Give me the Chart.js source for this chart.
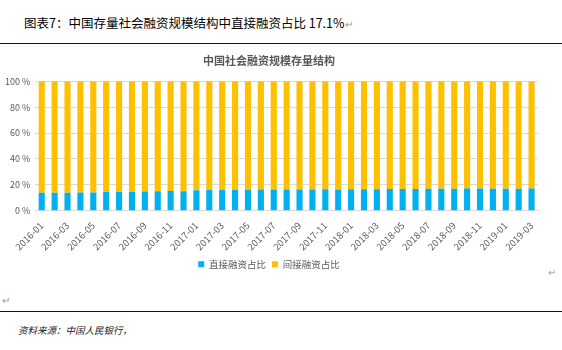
<!DOCTYPE html>
<html>
<head>
<meta charset="utf-8">
<script src="https://cdn.jsdelivr.net/npm/chart.js@4/dist/chart.umd.min.js"></script>
<style>
  html, body { margin: 0; padding: 0; background: #fff; }
  body { width: 562px; height: 350px; position: relative; overflow: hidden;
         font-family: "Noto Sans CJK SC", sans-serif; }
  #head { position: absolute; left: 24px; top: 13px; font-size: 12.5px; color: #000; white-space: nowrap; }
  .ret { color: #9a9a9a; font-size: 10px; }
  .rule { position: absolute; left: 0; width: 562px; height: 1px; background: #111; }
  #box { position: absolute; left: 0; top: 48px; width: 562px; height: 231px; }
  #src { position: absolute; left: 18px; top: 323px; font-size: 9.5px; font-style: italic; color: #222; }
  #r1 { position: absolute; left: 548px; top: 264px; }
  #r2 { position: absolute; left: 2px; top: 292px; }
</style>
</head>
<body>
<div id="head">图表7：中国存量社会融资规模结构中直接融资占比 17.1%<span class="ret">↵</span></div>
<div class="rule" style="top:43px"></div>
<div id="box"><canvas id="mix"></canvas></div>
<span id="r1" class="ret">↵</span>
<span id="r2" class="ret">↵</span>
<div class="rule" style="top:311px"></div>
<div id="src">资料来源：中国人民银行，</div>
<script>
const months = [
  '2016-01','2016-02','2016-03','2016-04','2016-05','2016-06','2016-07','2016-08','2016-09','2016-10','2016-11','2016-12',
  '2017-01','2017-02','2017-03','2017-04','2017-05','2017-06','2017-07','2017-08','2017-09','2017-10','2017-11','2017-12',
  '2018-01','2018-02','2018-03','2018-04','2018-05','2018-06','2018-07','2018-08','2018-09','2018-10','2018-11','2018-12',
  '2019-01','2019-02','2019-03'
];
// 直接融资占比 (%)
const direct = [
  13.8, 13.9, 13.9, 14.0, 14.0, 14.5, 14.6, 14.6, 14.8, 15.0, 15.3, 15.0,
  15.9, 16.0, 16.1, 16.2, 16.2, 16.3, 16.3, 16.4, 16.4, 16.4, 16.5, 16.4,
  16.5, 16.6, 16.6, 16.7, 16.8, 16.8, 16.9, 16.9, 17.0, 17.1, 17.2, 17.0,
  16.9, 17.0, 17.1
];
// 间接融资占比 (%)
const indirect = [
  86.2, 86.1, 86.1, 86.0, 86.0, 85.5, 85.4, 85.4, 85.2, 85.0, 84.7, 85.0,
  84.1, 84.0, 83.9, 83.8, 83.8, 83.7, 83.7, 83.6, 83.6, 83.6, 83.5, 83.6,
  83.5, 83.4, 83.4, 83.3, 83.2, 83.2, 83.1, 83.1, 83.0, 82.9, 82.8, 83.0,
  83.1, 83.0, 82.9
];
const yTicks = [0, 10, 20, 30, 40, 50, 60, 70, 80, 90, 100];

const grey = '#595959';
Chart.defaults.font.family = '"Noto Sans CJK SC", sans-serif';

new Chart(document.getElementById('mix'), {
  type: 'bar',
  data: {
    labels: months,
    datasets: [
      { label: '直接融资占比', data: direct, backgroundColor: '#00B0F0',
        categoryPercentage: 0.5, barPercentage: 0.95 },
      { label: '间接融资占比', data: indirect, backgroundColor: '#FFC000',
        categoryPercentage: 0.5, barPercentage: 0.95 }
    ]
  },
  options: {
    responsive: true,
    maintainAspectRatio: false,
    animation: false,
    layout: { padding: { left: 0, right: 24, top: 4, bottom: 0 } },
    plugins: {
      title: {
        display: true,
        text: '中国社会融资规模存量结构',
        color: grey,
        font: { size: 11, weight: 'bold' },
        padding: { top: 2, bottom: 14 }
      },
      legend: {
        position: 'bottom',
        labels: { boxWidth: 6, boxHeight: 6, color: grey, font: { size: 9.5 }, padding: 6 }
      },
      tooltip: { enabled: false }
    },
    scales: {
      x: {
        stacked: true,
        grid: { display: false },
        border: { color: '#d9d9d9' },
        ticks: {
          color: grey, font: { size: 9.5 }, autoSkip: false,
          maxRotation: 45, minRotation: 45, padding: 1,
          callback: (v, i) => (i % 2 === 0 ? months[i] : '')
        }
      },
      y: {
        stacked: true,
        min: 0, max: 100,
        afterBuildTicks: axis => { axis.ticks = yTicks.map(v => ({ value: v })); },
        grid: { color: '#d9d9d9', drawTicks: false },
        border: { display: false },
        ticks: { color: grey, font: { size: 9 }, padding: 5, callback: v => v + ' %' }
      }
    }
  }
});
</script>
</body>
</html>
